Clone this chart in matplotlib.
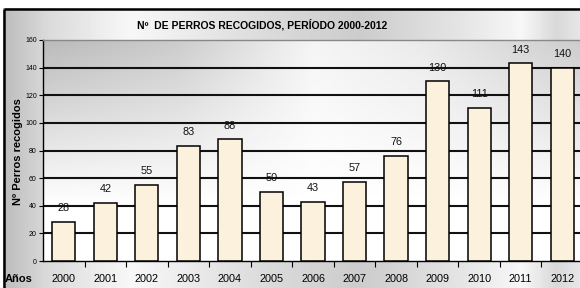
import numpy as np
import matplotlib
matplotlib.use("Agg")
import matplotlib.pyplot as plt

plt.rcParams['font.family'] = ['Liberation Sans', 'DejaVu Sans']

years = ['2000', '2001', '2002', '2003', '2004', '2005', '2006',
         '2007', '2008', '2009', '2010', '2011', '2012']
perros = [28, 42, 55, 83, 88, 50, 43, 57, 76, 130, 111, 143, 140]
yticks = [0, 20, 40, 60, 80, 100, 120, 140, 160]
title = 'Nº  DE PERROS RECOGIDOS, PERÍODO 2000-2012'
ylabel = 'Nº Perros recogidos'
xlabel = 'Años'

W, H = 580, 288
fig = plt.figure(figsize=(W / 100, H / 100), dpi=100)
fig.patch.set_facecolor('white')

# outer frame background (gradient)
bg = fig.add_axes([0, 0, 1, 1])
bg.set_xlim(0, W)
bg.set_ylim(H, 0)
bg.axis('off')
xs = np.linspace(0, 1, 300)
prof = np.interp(xs, [0, 0.08, 0.22, 0.45, 0.62, 0.8, 0.9, 0.96, 1.0],
                 [0.74, 0.86, 0.97, 0.86, 0.80, 0.9, 0.97, 0.85, 0.9])
img = np.tile(prof, (50, 1))
bg.imshow(img, cmap='gray', vmin=0, vmax=1, extent=[3, W, H, 8], aspect='auto', zorder=0)
bg.plot([3.5, 3.5], [H, 8.5], color='black', lw=1.8, zorder=2, solid_capstyle='butt')
bg.plot([3.5, W], [8.5, 8.5], color='black', lw=1.8, zorder=2, solid_capstyle='butt')

# main axes
ax = fig.add_axes([43 / W, 27 / H, 540 / W, 221 / H])
x = np.arange(len(years))

# plot-area gradient (row 0 = top)
gx = np.linspace(0, 1, 200)
gt = np.linspace(0, 1, 120)[:, None]
amp = np.interp(gx, [0, 0.25, 0.5, 0.7, 1.0], [0.27, 0.2, 0.04, 0.08, 0.2])[None, :]
dark = amp * np.clip(1 - gt / 0.75, 0, 1)
ax.imshow(1 - dark, cmap='gray', vmin=0, vmax=1, origin='upper',
          extent=[-0.5, len(years) - 0.5, yticks[0], yticks[-1]], aspect='auto', zorder=0)

for yv in yticks[1:-1]:
    ax.axhline(yv, color='#111111', lw=1.5, zorder=1)

ax.bar(x, perros, width=0.56, color='#fbf1dc', edgecolor='black', linewidth=1.1, zorder=3)
for xi, v in zip(x, perros):
    ax.annotate(str(v), (xi, v), xytext=(0, 10), textcoords='offset points',
                ha='center', va='center', fontsize=7.8, color='#111111', zorder=4)

ax.set_xlim(-0.5, len(years) - 0.5)
ax.set_ylim(yticks[0], yticks[-1])
ax.set_yticks(yticks)
ax.tick_params(axis='y', labelsize=5, length=3, width=0.8, pad=1.5, direction='out')
ax.set_xticks(x)
ax.set_xticklabels(years)
ax.tick_params(axis='x', which='major', length=0, labelsize=7.8, pad=9)
ax.set_xticks(np.arange(len(years) - 1) + 0.5, minor=True)
ax.tick_params(axis='x', which='minor', length=4, width=0.8, direction='out')

ax.spines['top'].set_color('#888888')
ax.spines['top'].set_linewidth(1.0)
ax.spines['right'].set_visible(False)
ax.spines['left'].set_linewidth(1.0)
ax.spines['bottom'].set_linewidth(1.0)

fig.text(262 / W, 1 - 25 / H, title, ha='center', va='center',
         fontsize=7.5, fontweight='bold')
fig.text(18 / W, 1 - 152 / H, ylabel, rotation=90, ha='center', va='center',
         fontsize=8, fontweight='bold')
fig.text(5 / W, 1 - 279 / H, xlabel, ha='left', va='center',
         fontsize=8, fontweight='bold')

fig.savefig('out.png', dpi=100)
